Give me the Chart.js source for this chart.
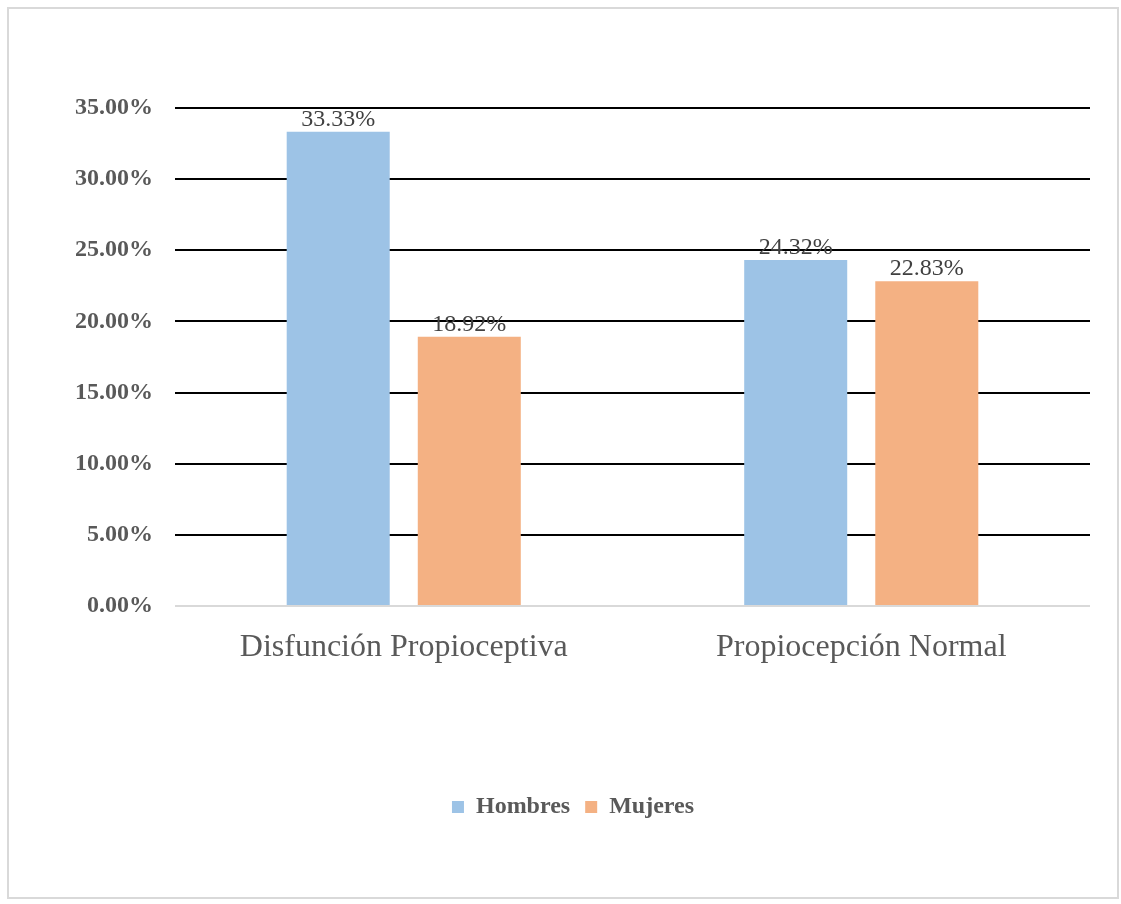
<!DOCTYPE html>
<html>
<head>
<meta charset="utf-8">
<script src="https://cdn.jsdelivr.net/npm/chart.js@4.4.1/dist/chart.umd.min.js"></script>
<style>
    body { margin: 0; background: #ffffff; }
    .frame {
        position: absolute;
        left: 7px; top: 7px;
        width: 1108px; height: 888px;
        border: 2px solid #d9d9d9;
    }
    .chart-wrap {
        position: absolute;
        left: 0; top: 0;
        width: 1121px; height: 904px;
    }
</style>
</head>
<body>
<div class="frame"></div>
<div class="chart-wrap"><canvas id="propChart" width="1121" height="904"></canvas></div>
<script>
const categories = ['Disfunción Propioceptiva', 'Propiocepción Normal'];
const hombres = [33.33, 24.32];
const mujeres = [18.92, 22.83];
const yTicks = [0, 5, 10, 15, 20, 25, 30, 35];

const serif = '"Liberation Serif", "Times New Roman", serif';

// Percentage label above each bar
const barValueLabels = {
    id: 'barValueLabels',
    afterDatasetsDraw(chart) {
        const ctx = chart.ctx;
        ctx.save();
        ctx.font = '24px ' + serif;
        ctx.fillStyle = '#404040';
        ctx.textAlign = 'center';
        ctx.textBaseline = 'alphabetic';
        chart.data.datasets.forEach((ds, i) => {
            chart.getDatasetMeta(i).data.forEach((bar, j) => {
                ctx.fillText(ds.data[j].toFixed(2) + '%', bar.x, bar.y - 6);
            });
        });
        ctx.restore();
    }
};

function initChart() {
    const ctx = document.getElementById('propChart').getContext('2d');
    new Chart(ctx, {
        type: 'bar',
        data: {
            labels: categories,
            datasets: [
                {
                    label: 'Hombres',
                    data: hombres,
                    backgroundColor: '#9dc3e6',
                    categoryPercentage: 0.573,
                    barPercentage: 0.786
                },
                {
                    label: 'Mujeres',
                    data: mujeres,
                    backgroundColor: '#f4b183',
                    categoryPercentage: 0.573,
                    barPercentage: 0.786
                }
            ]
        },
        options: {
            responsive: false,
            animation: false,
            layout: {
                padding: { left: 56, right: 31, top: 108, bottom: 75 }
            },
            plugins: {
                legend: {
                    position: 'bottom',
                    labels: {
                        color: '#595959',
                        font: { family: serif, size: 24, weight: 'bold' },
                        boxWidth: 12,
                        boxHeight: 12,
                        padding: 15
                    }
                },
                tooltip: { enabled: false }
            },
            scales: {
                y: {
                    min: 0,
                    max: 35,
                    afterBuildTicks: scale => {
                        scale.ticks = yTicks.map(v => ({ value: v }));
                    },
                    afterFit: scale => {
                        scale.width = 119;
                    },
                    border: { display: false },
                    grid: {
                        color: c => c.tick.value === 0 ? '#d9d9d9' : '#000000',
                        lineWidth: 2,
                        drawTicks: false
                    },
                    ticks: {
                        color: '#595959',
                        padding: 22,
                        font: { family: serif, size: 24, weight: 'bold' },
                        callback: value => value.toFixed(2) + '%'
                    }
                },
                x: {
                    border: { display: false },
                    grid: { display: false, drawTicks: false },
                    ticks: {
                        color: '#595959',
                        padding: 22,
                        font: { family: serif, size: 32 }
                    },
                    afterFit: scale => {
                        scale.height = 174;
                    }
                }
            }
        },
        plugins: [barValueLabels]
    });
}

document.addEventListener('DOMContentLoaded', initChart);
</script>
</body>
</html>
